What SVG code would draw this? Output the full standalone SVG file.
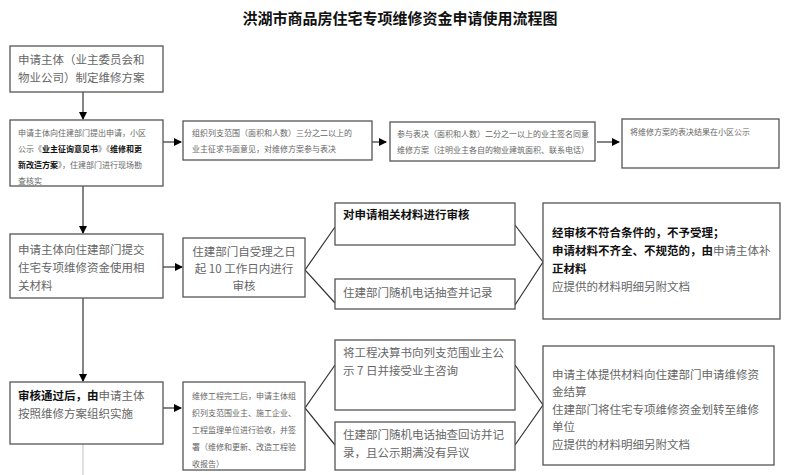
<svg xmlns="http://www.w3.org/2000/svg" width="800" height="475" viewBox="0 0 800 475">
<defs><marker id="ar" markerWidth="8" markerHeight="8" refX="7" refY="4" orient="auto" markerUnits="userSpaceOnUse"><path d="M0,0 L8,4 L0,8 z" fill="#000"/></marker></defs>
<style>
rect{fill:#fff;stroke:#555;stroke-width:1.3}
text{font-family:"Noto Sans CJK SC",sans-serif;fill:#666}
.s{font-size:8px}.m{font-size:11.5px}
.b{fill:#111;font-weight:bold}
.c line,.c polyline{stroke:#333;stroke-width:1.2;fill:none}
</style>
<rect x="0" y="0" width="800" height="475" style="stroke:none"/>
<text x="400" y="24" text-anchor="middle" style="font-size:15px;fill:#111;font-weight:bold">洪湖市商品房住宅专项维修资金申请使用流程图</text>
<g class="c">
<line x1="83" y1="92" x2="83" y2="119" marker-end="url(#ar)"/>
<line x1="83" y1="186" x2="83" y2="233" marker-end="url(#ar)"/>
<line x1="83" y1="298" x2="83" y2="381" marker-end="url(#ar)"/>
<line x1="83" y1="444" x2="83" y2="475" style="stroke:#ccc"/>
<line x1="163" y1="142" x2="181" y2="142" marker-end="url(#ar)"/>
<line x1="372" y1="142" x2="386" y2="142" marker-end="url(#ar)"/>
<line x1="597" y1="142" x2="619" y2="142" marker-end="url(#ar)"/>
<line x1="163" y1="267" x2="182" y2="267" marker-end="url(#ar)"/>
<line x1="163" y1="408" x2="181" y2="408" marker-end="url(#ar)"/>
<polyline points="335,227 305,270 335,303"/>
<polyline points="515,225 543,262 515,305"/>
<polyline points="335,365 305,408 335,445"/>
<polyline points="515,365 543,405 515,445"/>
</g>
<g id="n1"><rect x="10" y="46" width="153" height="46"/><text class="m" x="18" y="64">申请主体（业主委员会和</text><text class="m" x="18" y="82">物业公司）制定维修方案</text></g>
<g id="n2"><rect x="10" y="120" width="153" height="66"/><text class="s" x="18" y="136">申请主体向住建部门提出申请，小区</text><text class="s" x="18" y="152">公示《<tspan class="b">业主征询意见书</tspan>》《<tspan class="b">维修和更</tspan></text><text class="s" x="18" y="168"><tspan class="b">新改造方案</tspan>》，住建部门进行现场勘</text><text class="s" x="18" y="184">查核实</text></g>
<g id="n3"><rect x="183" y="121" width="189" height="39"/><text class="s" x="192" y="136">组织列支范围（面积和人数）三分之二以上的</text><text class="s" x="192" y="152">业主征求书面意见，对维修方案参与表决</text></g>
<g id="n4"><rect x="390" y="122" width="205" height="39"/><text class="s" x="397" y="137">参与表决（面积和人数）二分之一以上的业主签名同意</text><text class="s" x="397" y="153">维修方案（注明业主各自的物业建筑面积、联系电话）</text></g>
<g id="n5"><rect x="622" y="119" width="157" height="49"/><text class="s" x="630" y="135">将维修方案的表决结果在小区公示</text></g>
<g id="n6"><rect x="10" y="234" width="153" height="64"/><text class="m" x="18" y="254">申请主体向住建部门提交</text><text class="m" x="18" y="272">住宅专项维修资金使用相</text><text class="m" x="18" y="290">关材料</text></g>
<g id="n7"><rect x="183" y="238" width="122" height="59"/><text class="m" x="244" y="256" text-anchor="middle">住建部门自受理之日</text><text class="m" x="244" y="273" text-anchor="middle">起 10 工作日内进行</text><text class="m" x="244" y="290" text-anchor="middle">审核</text></g>
<g id="n8"><rect x="335" y="203" width="180" height="42"/><text class="m b" x="343" y="219">对申请相关材料进行审核</text></g>
<g id="n9"><rect x="335" y="279" width="180" height="30"/><text class="m" x="343" y="297">住建部门随机电话抽查并记录</text></g>
<g id="n10"><rect x="543" y="203" width="237" height="116"/><text class="m b" x="552" y="237">经审核不符合条件的，不予受理；</text><text class="m b" x="552" y="255">申请材料不齐全、不规范的，由<tspan style="fill:#666;font-weight:normal">申请主体补</tspan></text><text class="m b" x="552" y="273">正材料</text><text class="m" x="552" y="291">应提供的材料明细另附文档</text></g>
<g id="n11"><rect x="10" y="382" width="153" height="62"/><text class="m b" x="18" y="400">审核通过后，由<tspan style="fill:#666;font-weight:normal">申请主体</tspan></text><text class="m" x="18" y="418">按照维修方案组织实施</text></g>
<g id="n12"><rect x="183" y="382" width="122" height="88"/><text class="s" x="192" y="399">维修工程完工后，申请主体组</text><text class="s" x="192" y="416">织列支范围业主、施工企业、</text><text class="s" x="192" y="433">工程监理单位进行验收，并签</text><text class="s" x="192" y="450">署（维修和更新、改造工程验</text><text class="s" x="192" y="467">收报告）</text></g>
<g id="n13"><rect x="335" y="340" width="180" height="70"/><text class="m" x="343" y="357">将工程决算书向列支范围业主公</text><text class="m" x="343" y="375">示 7 日并接受业主咨询</text></g>
<g id="n14"><rect x="335" y="422" width="180" height="48"/><text class="m" x="343" y="439">住建部门随机电话抽查回访并记</text><text class="m" x="343" y="457">录，且公示期满没有异议</text></g>
<g id="n15"><rect x="543" y="346" width="231" height="119"/><text class="m" x="552" y="379">申请主体提供材料向住建部门申请维修资</text><text class="m" x="552" y="396">金结算</text><text class="m" x="552" y="414">住建部门将住宅专项维修资金划转至维修</text><text class="m" x="552" y="431">单位</text><text class="m" x="552" y="449">应提供的材料明细另附文档</text></g>
</svg>
